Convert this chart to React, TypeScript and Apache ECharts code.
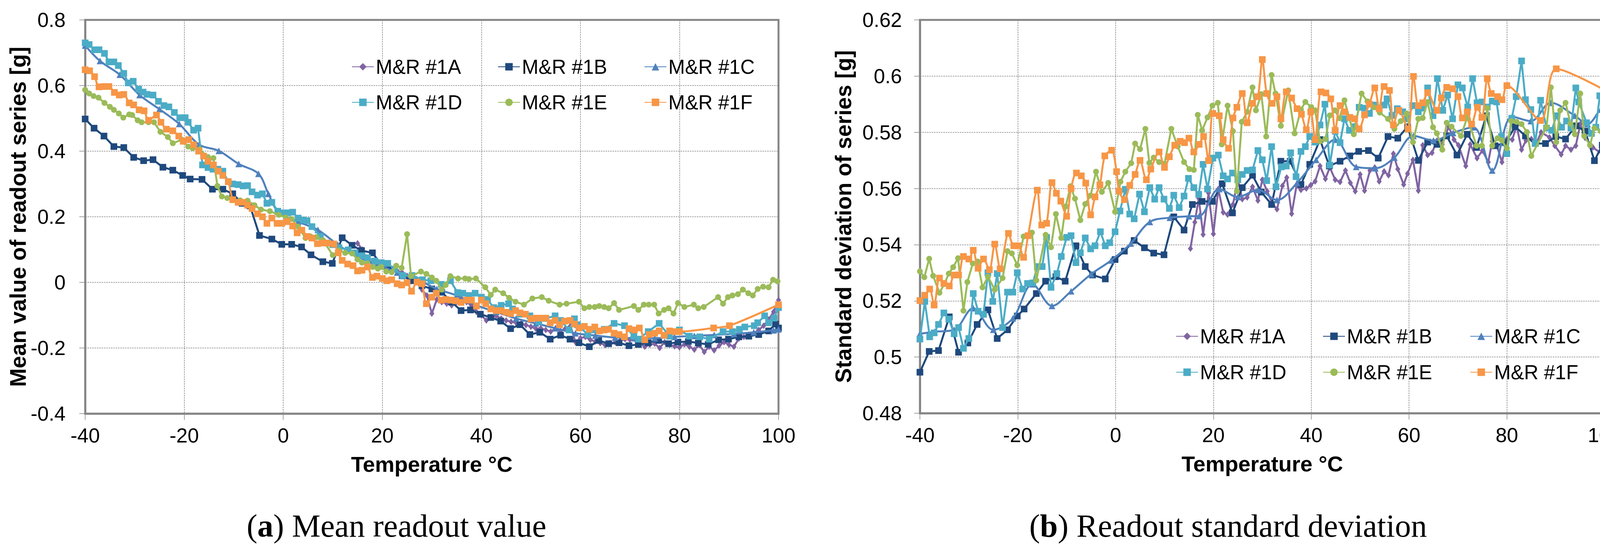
import React, { useEffect, useRef } from "react";
import * as echarts from "echarts";

const NAMES = ["M&R #1A", "M&R #1B", "M&R #1C", "M&R #1D", "M&R #1E", "M&R #1F"];
const COLORS = ["#8064A2", "#1F497D", "#4F81BD", "#4BACC6", "#9BBB59", "#F79646"];
const SYMBOLS = ["diamond", "rect", "triangle", "rect", "circle", "rect"];
const SYMBOL_SIZES: any[] = [[13, 17], 17, 17, 17, 15, 17];
const SMOOTH = [false, false, 0.35, false, false, 0.3];

const X_TICKS = { min: -40, max: 100, interval: 20 };
const MEAN_TICKS = { min: -0.4, max: 0.8, interval: 0.2 };
const SD_TICKS = { min: 0.48, max: 0.62, interval: 0.02 };

// Mean readout value [g] vs temperature (°C)
const meanA = [[15,0.119],[16,0.1],[17,0.065],[18,0.06],[19,0.055],[20,0.05],[21,0.045],[22,0.04],[23,0.035],[24,0.03],[25,0.02],[26,0.01],[27,0.0],[28,-0.022],[29,-0.04],[30,-0.095],[31,-0.052],[32,-0.06],[33,-0.065],[34,-0.07],[35,-0.06],[36,-0.05],[37,-0.06],[38,-0.07],[39,-0.09],[40,-0.1],[41,-0.116],[42,-0.105],[43,-0.102],[44,-0.11],[45,-0.116],[46,-0.12],[47,-0.123],[48,-0.125],[49,-0.13],[50,-0.135],[51,-0.141],[52,-0.14],[53,-0.145],[54,-0.15],[55,-0.14],[56,-0.148],[57,-0.14],[58,-0.132],[59,-0.182],[60,-0.17],[61,-0.166],[62,-0.175],[63,-0.18],[64,-0.185],[65,-0.191],[66,-0.185],[67,-0.182],[68,-0.178],[69,-0.173],[70,-0.175],[71,-0.173],[72,-0.185],[73,-0.196],[74,-0.19],[75,-0.187],[76,-0.2],[77,-0.182],[78,-0.19],[79,-0.195],[80,-0.198],[81,-0.189],[82,-0.196],[83,-0.205],[84,-0.191],[85,-0.212],[86,-0.196],[87,-0.207],[88,-0.193],[89,-0.182],[90,-0.19],[91,-0.196],[92,-0.171],[93,-0.166],[94,-0.16],[95,-0.155],[96,-0.145],[97,-0.132],[98,-0.113],[99,-0.09],[100,-0.054]];
const meanB = [[-40,0.498],[-38.2,0.47],[-36.2,0.446],[-34.2,0.414],[-32.2,0.411],[-30.2,0.381],[-28.2,0.371],[-26.3,0.374],[-24.3,0.351],[-22.3,0.342],[-20.3,0.326],[-18.8,0.315],[-16.4,0.314],[-14.3,0.284],[-12.2,0.284],[-10.2,0.27],[-8.3,0.241],[-6.7,0.233],[-4.8,0.143],[-2.3,0.132],[-0.3,0.116],[1.7,0.116],[3.7,0.108],[5.6,0.084],[8,0.063],[9.9,0.058],[11.9,0.136],[13.9,0.113],[15.8,0.097],[18,0.09],[20,0.05],[22,0.04],[24,0.02],[26,0.005],[28,-0.01],[30,-0.02],[32,-0.03],[34,-0.06],[35.9,-0.086],[37.8,-0.084],[39.8,-0.097],[41.9,-0.107],[43.9,-0.118],[45.9,-0.141],[47.8,-0.129],[49.8,-0.159],[51.8,-0.152],[53.9,-0.173],[56,-0.161],[57.9,-0.173],[59.7,-0.184],[61.8,-0.196],[63.7,-0.177],[65.7,-0.187],[67.8,-0.184],[69.8,-0.193],[71.7,-0.189],[73.7,-0.184],[75.8,-0.177],[77.8,-0.187],[79.7,-0.182],[81.8,-0.18],[83.8,-0.185],[85.8,-0.189],[87.9,-0.175],[89.9,-0.173],[92,-0.166],[94,-0.164],[96,-0.159],[98,-0.148],[99.4,-0.127],[100,-0.139]];
const meanC = [[-40,0.722],[-37,0.675],[-33,0.633],[-29,0.571],[-25,0.528],[-21,0.483],[-17,0.42],[-13,0.401],[-9,0.361],[-5,0.331],[-3,0.27],[-1,0.215],[3,0.185],[7,0.16],[11,0.115],[15,0.078],[19,0.055],[23,0.03],[27,0.01],[31,-0.02],[35,-0.04],[39,-0.07],[43,-0.09],[47,-0.11],[51,-0.125],[55,-0.14],[59,-0.155],[63,-0.162],[67,-0.168],[71,-0.17],[75,-0.17],[79,-0.166],[83,-0.163],[87,-0.16],[91,-0.157],[95,-0.152],[99,-0.146],[100,-0.143]];
const meanD = [[-40,0.73],[-39.2,0.725],[-38.1,0.709],[-37.2,0.709],[-36.1,0.698],[-35.2,0.672],[-34.2,0.672],[-33.3,0.661],[-32.2,0.637],[-31.3,0.608],[-30.3,0.613],[-29.2,0.589],[-28.3,0.58],[-27.5,0.573],[-26.3,0.571],[-25.2,0.552],[-24.1,0.539],[-23.1,0.535],[-22,0.518],[-20.9,0.502],[-19.8,0.502],[-19.2,0.488],[-18.1,0.464],[-17.2,0.47],[-16.3,0.358],[-15.2,0.35],[-14.2,0.345],[-13.2,0.345],[-12.2,0.339],[-11.1,0.307],[-10.2,0.3],[-9.1,0.298],[-8.1,0.294],[-7.2,0.295],[-6.3,0.276],[-5.2,0.266],[-4.2,0.27],[-3.3,0.241],[-2.3,0.244],[-1.1,0.217],[-0.2,0.212],[0.9,0.212],[1.9,0.214],[3,0.196],[4,0.19],[4.8,0.188],[5.8,0.17],[7.5,0.14],[9,0.12],[10,0.115],[11.25,0.106],[13.1,0.099],[14.5,0.09],[15.9,0.081],[17,0.075],[18.5,0.065],[19.8,0.06],[21.1,0.058],[22.5,0.04],[24.1,0.021],[26,0.021],[28.1,0.008],[29.8,0.005],[31.9,-0.006],[33.75,0.005],[35.2,-0.031],[36.25,-0.033],[37.5,-0.04],[38.75,-0.033],[40,-0.045],[41.25,-0.052],[42.5,-0.077],[44,-0.07],[45.5,-0.065],[46.3,-0.081],[47.8,-0.097],[49.8,-0.102],[51.6,-0.12],[53,-0.11],[54.9,-0.102],[56,-0.116],[57.7,-0.145],[58.8,-0.111],[59.4,-0.129],[61.5,-0.159],[62.7,-0.145],[64.8,-0.143],[66.8,-0.125],[68.9,-0.132],[70.8,-0.164],[71.7,-0.173],[73.7,-0.15],[75.9,-0.125],[78,-0.164],[80,-0.145],[82,-0.164],[84.1,-0.166],[86,-0.173],[88.8,-0.15],[90.7,-0.15],[92.1,-0.143],[93.2,-0.136],[95.1,-0.132],[95.8,-0.123],[97.2,-0.102],[98,-0.123],[99.1,-0.109],[100,-0.077]];
const meanE = [[-40,0.587],[-39.2,0.576],[-38.3,0.568],[-37.3,0.563],[-36.1,0.547],[-35,0.535],[-34.2,0.526],[-33.2,0.515],[-32.3,0.502],[-31.1,0.512],[-30.5,0.51],[-29.4,0.494],[-28.6,0.488],[-27.2,0.488],[-26.1,0.488],[-24.8,0.459],[-23.3,0.443],[-22.3,0.424],[-20.5,0.435],[-19.2,0.414],[-18.3,0.409],[-16.9,0.406],[-15.2,0.382],[-14.1,0.379],[-13.3,0.294],[-12.4,0.262],[-11.3,0.257],[-10.2,0.252],[-8.7,0.25],[-7.2,0.249],[-5.8,0.235],[-4.5,0.222],[-2.7,0.217],[-0.9,0.206],[0.5,0.198],[1.7,0.193],[3,0.17],[4.5,0.135],[5.5,0.14],[6.7,0.138],[8,0.129],[10,0.083],[11.25,0.097],[12.5,0.09],[13.9,0.088],[15,0.07],[15.9,0.06],[17,0.058],[18.1,0.047],[19.1,0.042],[19.8,0.047],[20.8,0.033],[21.9,0.031],[22.8,0.051],[23.9,0.044],[25,0.147],[25.8,0.019],[27.8,0.033],[28.9,0.026],[30,0.015],[30.9,0.005],[32,-0.022],[32.8,-0.008],[33.75,0.019],[35.3,0.012],[36.7,0.012],[37.5,0.01],[38.9,0.012],[40.8,-0.015],[41.9,-0.038],[42.8,-0.022],[44.4,-0.033],[45.6,-0.047],[46.9,-0.059],[48.6,-0.068],[50.3,-0.049],[52.2,-0.045],[53.6,-0.056],[55.8,-0.068],[57.2,-0.065],[59.7,-0.059],[60.8,-0.079],[61.8,-0.075],[62.9,-0.075],[63.8,-0.072],[64.8,-0.075],[65.7,-0.079],[66.8,-0.063],[67.8,-0.084],[70.8,-0.072],[71.7,-0.084],[72.8,-0.068],[73.8,-0.068],[74.9,-0.068],[75.8,-0.095],[76.9,-0.084],[77.8,-0.079],[78.8,-0.095],[79.7,-0.063],[81,-0.075],[82.9,-0.068],[83.8,-0.079],[84.9,-0.075],[87.8,-0.045],[88.8,-0.065],[89.8,-0.045],[90.7,-0.04],[91.8,-0.036],[92.8,-0.022],[93.9,-0.033],[94.8,-0.04],[95.8,-0.02],[96.9,-0.013],[98,-0.015],[98.9,0.008],[99.8,0.003]];
const meanF = [[-40,0.648],[-39.1,0.645],[-38.1,0.627],[-37.2,0.596],[-36.1,0.597],[-35.2,0.597],[-34.1,0.579],[-33.1,0.571],[-32.2,0.573],[-31.1,0.547],[-30.2,0.541],[-29.1,0.526],[-28.1,0.523],[-27.2,0.494],[-25.6,0.51],[-24.7,0.488],[-23.6,0.467],[-22.3,0.462],[-21.1,0.446],[-20.2,0.43],[-19.1,0.435],[-18.1,0.419],[-17.1,0.4],[-16.1,0.385],[-15.2,0.369],[-14.1,0.358],[-13.1,0.339],[-12.2,0.326],[-11.1,0.307],[-10.2,0.252],[-9.1,0.244],[-8.1,0.244],[-7.2,0.235],[-6.3,0.225],[-5.2,0.209],[-4.2,0.2],[-3.3,0.18],[-2.3,0.196],[-1.25,0.18],[-0.3,0.18],[0.8,0.185],[1.9,0.172],[2.8,0.151],[3.75,0.159],[4.8,0.14],[5.8,0.135],[6.9,0.118],[7.9,0.12],[8.9,0.12],[10.2,0.117],[11.1,0.09],[11.9,0.067],[13,0.056],[14.1,0.051],[15,0.035],[15.9,0.037],[17,0.047],[18,0.015],[18.9,0.019],[20,0.012],[20.9,0.005],[21.9,0.008],[23,-0.004],[23.9,-0.008],[25,-0.001],[25.9,-0.027],[27,0.001],[28,-0.004],[28.9,-0.065],[30,-0.045],[30.9,-0.033],[31.9,-0.054],[32.8,-0.052],[33.9,-0.054],[34.8,-0.056],[35.9,-0.061],[37,-0.054],[38,-0.054],[39,-0.072],[40,-0.054],[40.9,-0.065],[41.9,-0.081],[43,-0.086],[43.9,-0.086],[45,-0.091],[45.9,-0.095],[46.9,-0.086],[47.8,-0.093],[48.9,-0.097],[50,-0.111],[50.9,-0.109],[51.9,-0.109],[53,-0.109],[53.9,-0.123],[54.9,-0.116],[55.8,-0.129],[56.8,-0.118],[57.9,-0.116],[58.8,-0.127],[59.7,-0.139],[60.8,-0.134],[61.8,-0.143],[62.9,-0.136],[63.8,-0.148],[64.8,-0.145],[65.7,-0.143],[66.8,-0.155],[67.8,-0.159],[68.9,-0.166],[69.8,-0.141],[70.9,-0.145],[71.9,-0.139],[73,-0.175],[73.9,-0.159],[75,-0.155],[75.9,-0.148],[76.9,-0.161],[78,-0.148],[79.1,-0.15],[80,-0.15],[86.9,-0.139],[90.1,-0.132],[100,-0.068]];

// Standard deviation of readout series [g] vs temperature (°C)
const sdA = [[15.3,0.5386],[16.2,0.548],[17,0.5565],[17.9,0.5436],[19,0.5584],[20,0.5438],[21,0.5598],[22,0.5515],[22.9,0.5507],[24,0.5543],[25,0.5631],[25.9,0.5562],[26.9,0.5568],[28,0.5606],[29.1,0.5557],[30,0.5631],[31,0.559],[32,0.5548],[33,0.5526],[34.1,0.5609],[35,0.5639],[36,0.551],[37,0.561],[37.9,0.5595],[39,0.56],[39.9,0.5612],[40.8,0.5625],[41.8,0.568],[42.9,0.5634],[43.8,0.5675],[44.9,0.5631],[45.9,0.5623],[47,0.5664],[48,0.562],[49,0.559],[50,0.565],[50.9,0.5592],[52,0.5664],[53,0.5675],[53.9,0.5625],[54.9,0.5661],[55.8,0.5647],[56.8,0.5724],[57.7,0.5669],[58.9,0.5614],[59.7,0.5653],[60.8,0.5702],[61.9,0.5592],[62.8,0.5754],[63.8,0.5719],[64.7,0.5727],[65.7,0.577],[66.8,0.5757],[68.1,0.582],[69.2,0.5774],[70.1,0.5754],[71.6,0.568],[72.5,0.5757],[73.9,0.5708],[75,0.5735],[76.2,0.5694],[77,0.5768],[78,0.575],[79,0.5694],[80,0.5776],[81.1,0.5774],[82,0.5823],[83,0.5738],[83.9,0.5771],[85,0.5776],[86,0.576],[87,0.58],[88.7,0.5782],[89.8,0.5752],[91.1,0.5721],[92,0.5752],[93.1,0.5738],[94.1,0.5752],[95,0.5829],[96,0.578],[97.6,0.5746],[100,0.5716]];
const sdB = [[-40,0.4946],[-38.1,0.502],[-36.2,0.5023],[-34,0.5143],[-32.1,0.5017],[-30.2,0.505],[-28.3,0.5116],[-26.1,0.5168],[-24.2,0.5066],[-22.1,0.5097],[-20.1,0.5146],[-18.7,0.5171],[-16.2,0.5226],[-14.3,0.527],[-12.2,0.5286],[-10.3,0.527],[-8.1,0.5396],[-6.2,0.5322],[-4.7,0.5292],[-2.1,0.5278],[-0.1,0.5347],[1.8,0.5377],[3.8,0.5415],[5.9,0.5389],[7.8,0.537],[9.9,0.5364],[11.9,0.5499],[14,0.5452],[15.7,0.5543],[17.7,0.5554],[19.8,0.5554],[21.8,0.5617],[23.9,0.5513],[25.9,0.5603],[28,0.5647],[29.8,0.5587],[31.9,0.5543],[33.8,0.5697],[35.7,0.5697],[37.9,0.5614],[39.7,0.5686],[41.8,0.5774],[43.7,0.568],[45.9,0.5697],[47.9,0.5716],[49.7,0.5732],[51.7,0.5735],[53.7,0.5708],[55.7,0.5785],[57.7,0.5779],[59.7,0.582],[61.9,0.57],[63.8,0.5765],[65.7,0.5757],[67.7,0.5787],[69.8,0.5719],[71.9,0.5793],[73.8,0.5746],[75.8,0.5859],[77.6,0.5752],[79.7,0.5763],[81.7,0.582],[83.8,0.5787],[85.8,0.576],[87.9,0.576],[90,0.5785],[92,0.5776],[94.1,0.5823],[96,0.5804],[97.9,0.5699],[99.5,0.5754]];
const sdC = [[-40,0.5083],[-37,0.509],[-33,0.5097],[-29.1,0.5174],[-25,0.5097],[-21,0.5138],[-17,0.5259],[-13,0.5182],[-9.1,0.5234],[-5,0.5295],[-0.9,0.5344],[3.1,0.5404],[7,0.5481],[11.1,0.5496],[15,0.5501],[17.1,0.5502],[21.2,0.5598],[25,0.557],[29.1,0.5595],[33,0.5559],[37.1,0.562],[41,0.5702],[44.9,0.5774],[49.2,0.5677],[53.1,0.5672],[57,0.571],[60.9,0.5787],[65,0.5771],[69,0.5798],[73.1,0.5818],[77,0.5664],[81.1,0.5856],[84.9,0.584],[89,0.5905],[93.9,0.5859],[96.5,0.5829],[99.2,0.5881],[100,0.576]];
const sdD = [[-40,0.5064],[-39,0.5198],[-38,0.5072],[-37.1,0.5086],[-36.2,0.5116],[-35.1,0.5157],[-34.1,0.5135],[-33,0.5083],[-32.1,0.5105],[-31.1,0.5031],[-30,0.5066],[-29.1,0.5226],[-28.1,0.5163],[-27,0.5152],[-26.1,0.53],[-25.1,0.5198],[-24.2,0.5297],[-23.1,0.5105],[-22.1,0.5231],[-21,0.5231],[-20.1,0.53],[-19,0.5242],[-18,0.5262],[-16.9,0.5264],[-16,0.5322],[-15,0.5322],[-14.1,0.5426],[-13.2,0.5248],[-12,0.5297],[-11.1,0.5358],[-10,0.5426],[-9.1,0.5432],[-8.1,0.5336],[-7.2,0.5371],[-6.2,0.5424],[-5.1,0.5385],[-4.2,0.5396],[-3.1,0.5446],[-2.1,0.5396],[-1.2,0.5407],[-0.1,0.5446],[0.9,0.552],[2,0.5597],[2.9,0.5509],[3.8,0.5492],[4.9,0.558],[5.9,0.5517],[7,0.5603],[8,0.5562],[8.9,0.5603],[9.9,0.5562],[11,0.5529],[11.9,0.5576],[13,0.5532],[14,0.5573],[14.9,0.5636],[16,0.5603],[17,0.5579],[17.9,0.5686],[18.8,0.5598],[19.9,0.5708],[21,0.5719],[22,0.5645],[22.9,0.5634],[23.9,0.5655],[25,0.5631],[25.9,0.565],[26.9,0.5664],[28,0.5666],[29.1,0.5735],[30,0.5702],[30.9,0.5628],[31.9,0.5749],[32.8,0.5606],[33.9,0.5677],[34.9,0.568],[35.8,0.5727],[36.9,0.5642],[37.9,0.5732],[38.8,0.5749],[39.7,0.5785],[40.8,0.5765],[41.8,0.5826],[42.8,0.59],[43.8,0.5683],[44.9,0.5804],[45.9,0.5763],[46.8,0.5848],[47.8,0.5807],[48.9,0.582],[49.8,0.5889],[50.9,0.5886],[51.9,0.5867],[52.8,0.5897],[53.9,0.5886],[54.9,0.5897],[55.5,0.5919],[56.5,0.586],[57.6,0.5884],[58.7,0.5873],[59.7,0.5848],[60.8,0.5895],[61.9,0.5873],[62.8,0.5886],[63.8,0.5958],[64.9,0.5859],[65.8,0.5991],[66.9,0.5878],[67.9,0.5933],[68.9,0.5848],[70,0.5969],[70.9,0.5958],[72,0.589],[73,0.5991],[73.9,0.5905],[74.9,0.5908],[76,0.589],[77,0.5911],[77.9,0.5908],[78.9,0.5785],[80,0.5724],[81,0.585],[81.9,0.5927],[83,0.6054],[83.8,0.5916],[84.9,0.5881],[85.8,0.576],[86.9,0.5914],[88.1,0.5815],[89.2,0.5807],[90.1,0.5859],[91.2,0.5818],[92.2,0.584],[93.1,0.5815],[94.1,0.5958],[94.7,0.5908],[96.3,0.5834],[97.3,0.5796],[98.2,0.5818],[99,0.593],[100,0.5884]];
const sdE = [[-40,0.5305],[-39.1,0.5284],[-38.1,0.535],[-37.3,0.5289],[-36,0.5229],[-35,0.526],[-34.1,0.5297],[-33.2,0.532],[-32.2,0.5352],[-31.1,0.5165],[-30.3,0.5267],[-29.2,0.5333],[-28.2,0.534],[-27.2,0.5248],[-26.1,0.5286],[-24.7,0.524],[-23.1,0.5281],[-22.1,0.5377],[-21.2,0.5369],[-20.1,0.5327],[-18.8,0.5429],[-17.1,0.5443],[-16.2,0.5273],[-14.3,0.5435],[-13.2,0.5391],[-12.2,0.5509],[-11.1,0.5424],[-10.2,0.5536],[-9.2,0.5608],[-8.3,0.5564],[-7.2,0.5487],[-6.2,0.5545],[-5.1,0.5575],[-4,0.566],[-2.8,0.5588],[-1.5,0.562],[-0.1,0.5517],[1,0.5624],[2,0.566],[3.2,0.569],[4,0.576],[5,0.574],[6.1,0.5812],[6.9,0.5691],[7.8,0.571],[8.9,0.5694],[10,0.5688],[11.4,0.5812],[12.7,0.575],[14,0.5694],[15.1,0.5669],[16,0.5666],[16.8,0.5862],[17.7,0.5807],[18.8,0.5853],[19.8,0.5895],[20.9,0.5905],[21.7,0.5757],[22.9,0.5895],[24,0.5804],[24.8,0.559],[25.8,0.5837],[26.9,0.5873],[28,0.596],[28.7,0.5878],[29.8,0.5936],[30.8,0.5785],[31.9,0.6004],[32.7,0.5938],[33.8,0.5823],[35.3,0.5949],[36.6,0.5796],[37.9,0.5881],[38.8,0.5908],[40,0.589],[40.8,0.5878],[41.8,0.5768],[42.9,0.5776],[43.8,0.586],[44.8,0.5878],[45.8,0.585],[46.8,0.5914],[47.8,0.585],[48.7,0.5793],[50.3,0.5938],[51.5,0.591],[52.8,0.5889],[54,0.587],[55.7,0.5848],[57,0.5812],[58.3,0.584],[59.5,0.5867],[60.8,0.5765],[61.9,0.5848],[62.8,0.5851],[63.8,0.5908],[64.9,0.5818],[65.7,0.5796],[66.8,0.5738],[67.7,0.5834],[68.7,0.582],[70.6,0.5787],[71.9,0.5853],[73.8,0.5752],[74.9,0.5752],[76,0.5886],[77,0.5752],[78.1,0.5779],[79,0.5771],[80,0.5743],[80.9,0.584],[82,0.5837],[83,0.5829],[84.1,0.5801],[85,0.5716],[88.1,0.5818],[89,0.596],[90.1,0.5765],[90.9,0.5878],[92,0.5905],[93,0.5831],[93.9,0.5793],[95,0.5938],[95.8,0.5787],[97,0.5754],[97.9,0.5815],[99.2,0.5804],[100,0.5779]];
const sdF = [[-40,0.5201],[-39,0.522],[-38,0.5242],[-37.1,0.5185],[-36,0.5281],[-35.1,0.5262],[-34,0.5253],[-33,0.5292],[-32.1,0.5292],[-31.1,0.5358],[-30,0.5349],[-29.1,0.538],[-28.1,0.5316],[-27,0.5349],[-25.8,0.5311],[-24.7,0.5402],[-23.6,0.5314],[-21.9,0.544],[-20.8,0.5396],[-19.9,0.5396],[-18.8,0.5355],[-17.9,0.5432],[-16,0.5594],[-15.1,0.547],[-14.1,0.5476],[-13,0.5621],[-12.1,0.5583],[-11.2,0.5555],[-10,0.5501],[-9.1,0.56],[-8,0.5655],[-7,0.5645],[-6.1,0.5619],[-5.1,0.5506],[-4.2,0.557],[-3.2,0.5613],[-2.2,0.5716],[-0.8,0.5736],[0.2,0.566],[0.7,0.5591],[1.8,0.556],[2.9,0.5611],[4,0.565],[5,0.57],[6.3,0.5631],[7.2,0.5669],[8.9,0.573],[10,0.5675],[11,0.5713],[12.1,0.5754],[13.2,0.5768],[14.1,0.5763],[15,0.5779],[16,0.573],[17.1,0.5757],[18,0.5785],[19,0.5699],[19.9,0.5867],[21.2,0.5859],[22,0.5774],[23.1,0.5743],[24,0.5851],[24.8,0.5889],[25.9,0.5938],[26.9,0.5834],[28,0.5903],[29.1,0.5927],[30,0.6059],[30.9,0.5938],[32,0.5903],[33,0.5927],[33.8,0.5848],[34.9,0.5944],[36,0.5922],[37.1,0.5884],[38,0.5864],[39,0.5809],[39.9,0.5873],[40.8,0.5774],[42,0.5944],[43,0.594],[44,0.5919],[44.9,0.5807],[45.9,0.5895],[46.8,0.5873],[47.9,0.5853],[48.9,0.5848],[49.8,0.5812],[50.9,0.5862],[51.9,0.59],[53,0.5958],[53.9,0.5884],[54.9,0.5963],[56,0.5949],[56.8,0.5826],[57.9,0.5878],[59.8,0.5812],[60.9,0.5999],[61.9,0.5895],[62.8,0.5905],[63.8,0.5941],[65.7,0.5878],[66.6,0.5922],[67.7,0.596],[68.9,0.5955],[70,0.5927],[70.9,0.5851],[71.9,0.5873],[72.8,0.5829],[74,0.5889],[74.9,0.5853],[76,0.5991],[76.8,0.5938],[78.1,0.5927],[79,0.5916],[80,0.5966],[86.9,0.5842],[90.1,0.6026],[100,0.595]];

const MEAN_DATA = [meanA, meanB, meanC, meanD, meanE, meanF];
const SD_DATA = [sdA, sdB, sdC, sdD, sdE, sdF];

const SANS = "'Liberation Sans', Arial, Helvetica, sans-serif";
const SERIF = "'Liberation Serif', 'Times New Roman', serif";
const GRAY = "#868686";

function makeAxes(gridIndex: number, yTicks: any, yName: string, yGap: number, yMargin: number, decimals: number) {
  const x = {
    type: "value",
    gridIndex,
    min: X_TICKS.min,
    max: X_TICKS.max,
    interval: X_TICKS.interval,
    name: "Temperature °C",
    nameLocation: "middle",
    nameGap: 101,
    nameTextStyle: { fontFamily: SANS, fontSize: 56, fontWeight: "bold", color: "#000" },
    axisLine: { show: true, onZero: false, lineStyle: { color: GRAY, width: 5 } },
    axisTick: { show: true, inside: false, length: 16, lineStyle: { color: GRAY, width: 1.5 } },
    axisLabel: { fontFamily: SANS, fontSize: 52, color: "#000", margin: 30 },
    splitLine: { show: true, lineStyle: { color: GRAY, width: 1.5, type: [4, 2] } },
  };
  const y = {
    type: "value",
    gridIndex,
    min: yTicks.min,
    max: yTicks.max,
    interval: yTicks.interval,
    name: yName,
    nameLocation: "middle",
    nameRotate: 90,
    nameGap: yGap,
    nameTextStyle: { fontFamily: SANS, fontSize: 57, fontWeight: "bold", color: "#000" },
    axisLine: { show: true, onZero: false, lineStyle: { color: GRAY, width: 5 } },
    axisTick: { show: true, inside: false, length: 15, lineStyle: { color: GRAY, width: 1.5 } },
    axisLabel: {
      fontFamily: SANS,
      fontSize: 52,
      color: "#000",
      margin: yMargin,
      formatter: (v: number) => String(Math.round(v * Math.pow(10, decimals)) / Math.pow(10, decimals)),
    },
    splitLine: { show: true, lineStyle: { color: GRAY, width: 1.5, type: [4, 2] } },
  };
  return { x, y };
}

function makeSeries(datasets: number[][][], axisIndex: number) {
  return datasets.map((data, i) => ({
    type: "line",
    name: NAMES[i],
    xAxisIndex: axisIndex,
    yAxisIndex: axisIndex,
    data,
    symbol: SYMBOLS[i],
    symbolSize: SYMBOL_SIZES[i],
    showSymbol: true,
    showAllSymbol: true,
    smooth: SMOOTH[i],
    lineStyle: { color: COLORS[i], width: 5 },
    itemStyle: { color: COLORS[i], borderWidth: 0 },
    emphasis: { disabled: true },
    z: 2 + i,
  }));
}

function makeLegends(cols: number[], rowTops: number[]) {
  const legends: any[] = [];
  NAMES.forEach((name, i) => {
    legends.push({
      data: [name],
      left: cols[i % 3],
      top: rowTops[Math.floor(i / 3)],
      padding: 0,
      itemWidth: 56,
      itemHeight: 24,
      selectedMode: false,
      textStyle: { fontFamily: SANS, fontSize: 51, color: "#000" },
    });
  });
  return legends;
}

export default function App() {
  const ref = useRef<HTMLDivElement>(null);
  useEffect(() => {
    if (!ref.current) return;
    document.body.style.margin = "0";
    document.body.style.overflow = "hidden";
    const chart = echarts.init(ref.current, undefined, { renderer: "svg" });
    const a = makeAxes(0, MEAN_TICKS, "Mean value of readout series [g]", 144, 50, 1);
    const b = makeAxes(1, SD_TICKS, "Standard deviation of series [g]", 168, 46, 2);
    const option: any = {
      animation: false,
      backgroundColor: "#ffffff",
      grid: [
        { left: 218, top: 51, width: 1775, height: 1008, show: true, borderColor: GRAY, borderWidth: 5, backgroundColor: "transparent" },
        { left: 2355, top: 51, width: 1753, height: 1007, show: true, borderColor: GRAY, borderWidth: 5, backgroundColor: "transparent" },
      ],
      xAxis: [a.x, b.x],
      yAxis: [a.y, b.y],
      legend: [
        ...makeLegends([900, 1274, 1649], [145.5, 236.5]),
        ...makeLegends([3010, 3386, 3763], [835.5, 927.5]),
      ],
      series: [...makeSeries(MEAN_DATA, 0), ...makeSeries(SD_DATA, 1)],
      graphic: [
        {
          type: "text",
          x: 1015,
          y: 1346,
          style: {
            text: "{n|(}{b|a}{n|) Mean readout value}",
            align: "center",
            verticalAlign: "middle",
            fontFamily: SERIF,
            fontSize: 82,
            fill: "#000",
            rich: {
              n: { fontFamily: SERIF, fontSize: 82, fill: "#000" },
              b: { fontFamily: SERIF, fontSize: 82, fontWeight: "bold", fill: "#000" },
            },
          },
        },
        {
          type: "text",
          x: 3144,
          y: 1346,
          style: {
            text: "{n|(}{b|b}{n|) Readout standard deviation}",
            align: "center",
            verticalAlign: "middle",
            fontFamily: SERIF,
            fontSize: 82,
            fill: "#000",
            rich: {
              n: { fontFamily: SERIF, fontSize: 82, fill: "#000" },
              b: { fontFamily: SERIF, fontSize: 82, fontWeight: "bold", fill: "#000" },
            },
          },
        },
      ],
    };
    chart.setOption(option);
    return () => chart.dispose();
  }, []);
  return (
    <div
      ref={ref}
      style={{ position: "absolute", left: 0, top: 0, width: 4168, height: 1421, background: "#fff" }}
    />
  );
}
